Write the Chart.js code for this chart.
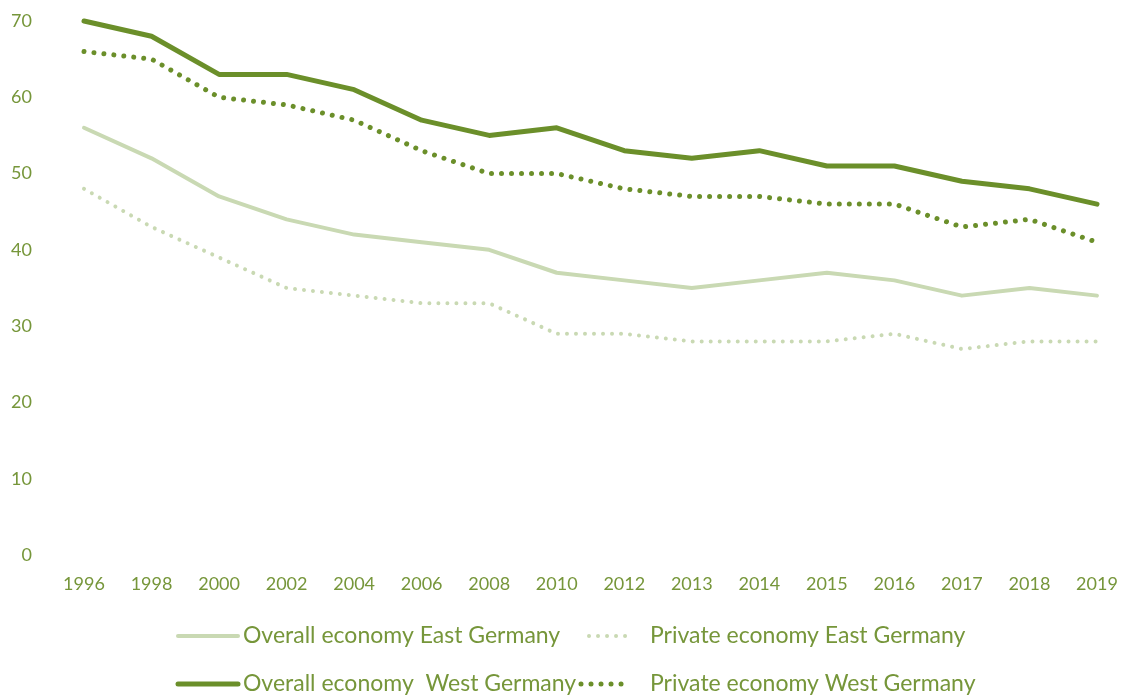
<!DOCTYPE html>
<html>
<head>
<meta charset="utf-8">
<script src="https://cdn.jsdelivr.net/npm/chart.js@4.4.1/dist/chart.umd.min.js"></script>
<style>
  html, body { margin: 0; padding: 0; background: #ffffff; }
  #wrap { position: relative; width: 1126px; height: 699px; }
</style>
</head>
<body>
<div id="wrap"><canvas id="chart" width="1126" height="699"></canvas></div>
<script>
// Years on the horizontal axis
const years = ['1996','1998','2000','2002','2004','2006','2008','2010','2012','2013','2014','2015','2016','2017','2018','2019'];

// Share of employees covered (percent)
const overallEast  = [56, 52, 47, 44, 42, 41, 40, 37, 36, 35, 36, 37, 36, 34, 35, 34];
const privateEast  = [48, 43, 39, 35, 34, 33, 33, 29, 29, 28, 28, 28, 29, 27, 28, 28];
const overallWest  = [70, 68, 63, 63, 61, 57, 55, 56, 53, 52, 53, 51, 51, 49, 48, 46];
const privateWest  = [66, 65, 60, 59, 57, 53, 50, 50, 48, 47, 47, 46, 46, 43, 44, 41];

const seriesNames = [
  'Overall economy East Germany',
  'Private economy East Germany',
  'Overall economy  West Germany',
  'Private economy West Germany'
];

const yTicks = [0, 10, 20, 30, 40, 50, 60, 70];

const DARK = '#6b8f2a';
const LIGHT = '#c9d9b3';
const TEXT = '#76963a';
const FONT = 'Lato, "Noto Sans", sans-serif';

// Two-column legend painted under the plot
const gridLegend = {
  id: 'gridLegend',
  afterDraw(chart) {
    const ctx = chart.ctx;
    const rows = [636, 684];
    const cells = [
      { ds: 0, row: 0, x0: 178, x1: 238, tx: 243 },
      { ds: 1, row: 0, x0: 589, x1: 631, tx: 650 },
      { ds: 2, row: 1, x0: 178, x1: 238, tx: 243 },
      { ds: 3, row: 1, x0: 581, x1: 631, tx: 650 }
    ];
    ctx.save();
    cells.forEach(c => {
      const ds = chart.data.datasets[c.ds];
      const y = rows[c.row];
      ctx.beginPath();
      ctx.strokeStyle = ds.borderColor;
      ctx.lineWidth = ds.borderWidth;
      ctx.lineCap = ds.borderCapStyle || 'butt';
      ctx.setLineDash(ds.borderDash || []);
      ctx.moveTo(c.x0, y);
      ctx.lineTo(c.x1, y);
      ctx.stroke();
      ctx.setLineDash([]);
      ctx.fillStyle = TEXT;
      ctx.font = '23px ' + FONT;
      ctx.textBaseline = 'middle';
      ctx.textAlign = 'left';
      ctx.fillText(ds.label, c.tx, y);
    });
    ctx.restore();
  }
};

new Chart(document.getElementById('chart'), {
  type: 'line',
  data: {
    labels: years,
    datasets: [
      { label: seriesNames[0], data: overallEast, borderColor: LIGHT, borderWidth: 4, borderCapStyle: 'round' },
      { label: seriesNames[1], data: privateEast, borderColor: LIGHT, borderWidth: 4, borderDash: [0.01, 9], borderCapStyle: 'round' },
      { label: seriesNames[2], data: overallWest, borderColor: DARK, borderWidth: 5, borderCapStyle: 'round' },
      { label: seriesNames[3], data: privateWest, borderColor: DARK, borderWidth: 5, borderDash: [0.01, 10], borderCapStyle: 'round' }
    ]
  },
  options: {
    responsive: false,
    animation: false,
    layout: { padding: { top: 21, right: 29, bottom: 94, left: 0 } },
    elements: {
      point: { radius: 0, hoverRadius: 0 },
      line: { tension: 0, fill: false, borderJoinStyle: 'round' }
    },
    datasets: { line: { clip: false } },
    plugins: {
      legend: { display: false },
      tooltip: { enabled: false }
    },
    scales: {
      x: {
        offset: false,
        grid: { display: false, drawTicks: false },
        border: { display: false },
        ticks: { color: TEXT, font: { family: FONT, size: 18 }, padding: 18, maxRotation: 0, autoSkip: false },
        afterFit(s) { s.height = 50; s.paddingLeft = 0; s.paddingRight = 0; }
      },
      y: {
        min: 0,
        max: 70,
        afterBuildTicks(s) { s.ticks = yTicks.map(v => ({ value: v })); },
        grid: { display: false, drawTicks: false },
        border: { display: false },
        ticks: { color: TEXT, font: { family: FONT, size: 18 }, padding: 52 },
        afterFit(s) { s.width = 84; s.paddingTop = 0; s.paddingBottom = 0; }
      }
    }
  },
  plugins: [gridLegend]
});
</script>
</body>
</html>
